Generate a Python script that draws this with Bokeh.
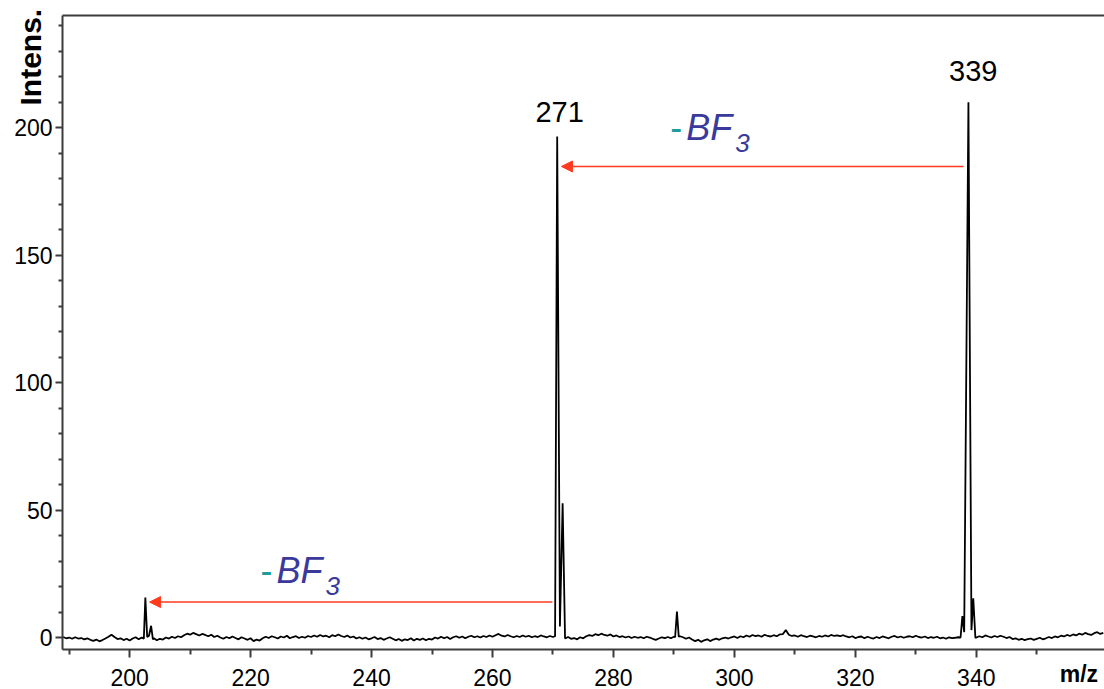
import math
import numpy as np
from bokeh.plotting import figure
from bokeh.models import Label, Arrow, NormalHead, FixedTicker, LinearAxis, Range1d
from bokeh.embed import file_html
from bokeh.resources import INLINE

# ---------------- data ----------------
mz_start, mz_step = 189.0, 0.5
baseline = [
    0.3, -0.2, 0.1, -0.4, 0.2, -0.3, -0.1, -0.6, -0.2, -0.8, -1.2, -0.7, -1.4, -0.9, -0.3, 0.4, 1.2, 0.3, -0.5, -0.2,
    -0.9, -0.4, -1.1, -0.3, 0.2, -0.6, 0.1, -0.4, 0.0, 0.3, -0.2, -1.0, -0.4, -0.7, 0.1, -0.3, 0.4, -0.1, 0.6, 0.2,
    1.0, 1.6, 1.2, 1.9, 1.4, 0.9, 1.5, 1.1, 0.6, 1.2, 0.3, 0.8, 0.1, -0.4, 0.3, -0.2, 0.5, -0.1, -0.6, 0.2,
    -0.3, -0.8, -0.2, -1.3, -0.7, -1.1, -0.2, 0.4, -0.1, 0.6, 0.2, -0.3, 0.5, 0.1, 0.8, -0.2, 0.3, 0.6, -0.1, 0.4,
    0.0, 0.7, 0.3, 0.9, 0.4, 1.1, 0.5, 0.8, 0.2, 1.0, 0.6, 1.3, 0.7, 0.3, 0.9, 0.1, 0.5, -0.3, 0.2, -0.4,
    0.1, -0.6, -0.2, 0.3, -0.5, -0.1, -0.8, -0.3, 0.2, -0.4, -1.0, -0.5, -1.2, -0.6, -0.9, -0.2, -1.1, -0.4, -0.8, -0.3,
    -1.0, -0.4, -0.7, 0.1, -0.3, 0.4, -0.2, 0.3, -0.5, 0.2, 0.6, 0.0, 0.5, -0.2, 0.4, 0.8, 0.2, 0.6, 0.1, 0.7,
    0.3, 0.9, 0.4, 1.0, 1.5, 0.8, 0.5, 1.1, 0.6, 0.2, 0.7, 0.3, 0.9, 0.4, 0.8, 0.2, 0.6, 0.3, 0.9, 0.5,
    0.2, 0.7, 0.3, 0.5, 0.4, 0.6, 0.2, 0.3, -0.4, -0.1, -0.6, 0.2, -0.2, 0.6, 1.0, 0.7, 1.4, 1.0, 1.6, 1.1,
    0.8, 1.3, 0.5, 0.9, 0.3, 0.6, 0.1, 0.5, -0.1, 0.4, 0.0, 0.3, -0.2, 0.4, 0.1, -0.4, -0.8, -0.3, 0.2, -0.1,
    0.3, -0.2, 0.4, 0.0, 0.6, 0.2, -0.4, 0.1, -0.7, -1.3, -0.8, -1.6, -1.0, -0.6, -1.3, -0.7, -0.3, -0.8, -0.2, 0.1,
    -0.3, 0.2, 0.5, -0.1, 0.6, 0.2, 0.9, 0.4, 1.1, 0.6, 0.9, 0.4, 1.2, 0.7, 0.5, 1.0, 0.6, 1.3, 1.4, 3.0,
    1.2, 0.7, 0.9, 0.4, 1.0, 0.6, 0.3, 0.8, 0.5, 0.2, 0.7, 0.4, 0.9, 0.5, 1.1, 0.7, 0.9, 0.6, 1.0, 0.5,
    0.2, 0.6, -0.1, 0.3, 0.5, -0.2, 0.4, 0.0, -0.3, 0.3, -0.1, 0.5, 0.2, -0.2, 0.4, 0.7, 0.1, 0.5, 0.0, 0.4,
    0.6, 0.2, 0.8, 0.3, 0.1, 0.5, -0.1, 0.3, 0.0, 0.4, -0.2, 0.1, -0.4, 0.2, -0.1, 0.0, 0.2, 0.3, 0.1, 0.2,
    0.2, 0.3, 0.1, 0.6, 0.2, 0.9, 0.5, 0.1, 0.7, 0.3, 0.8, 0.4, -0.1, 0.3, -0.5, -0.2, -0.8, -0.4, -0.9, -0.5,
    -0.3, -0.8, -0.4, 0.0, -0.6, -0.2, 0.3, -0.1, 0.5, 0.2, 0.8, 0.5, 1.1, 0.7, 1.3, 0.9, 1.6, 1.2, 1.9, 1.4,
    1.1, 1.8, 2.2, 1.5, 1.9,
]

# peak clusters: m/z and intensity of the points that form each peak
peak_203_mz = [202.35, 202.6, 202.9, 203.2, 203.55, 203.85]
peak_203_int = [-0.4, 15.8, 0.3, 0.8, 4.7, -0.6]
peak_271_mz = [270.35, 270.7, 271.15, 271.6, 272.0]
peak_271_int = [0.6, 196.6, 4.4, 52.7, -0.3]
peak_290_mz = [290.2, 290.5, 290.8]
peak_290_int = [0.2, 10.3, 0.4]
peak_339_mz = [337.4, 337.7, 338.0, 338.7, 339.2, 339.5, 339.85]
peak_339_int = [0.1, 8.5, 2.2, 210.0, 3.0, 15.5, 0.0]

peak_labels = ["271", "339"]
peak_label_mz = [271.1, 339.5]
peak_label_y = [202.2, 218.5]

# neutral-loss arrows (-BF3): from parent m/z to fragment m/z, drawn at a given intensity
arrow_from = [337.9, 269.9]
arrow_to = [271.4, 203.3]
arrow_y = [184.8, 14.0]
loss_label_mz = [289.4, 221.65]
loss_label_y = [195.0, 21.3]

x_ticks = [200, 220, 240, 260, 280, 300, 320, 340]
x_minor = [190, 210, 230, 250, 270, 290, 310, 330, 350]
y_ticks = [0, 50, 100, 150, 200]
y_minor = [10, 20, 30, 40, 60, 70, 80, 90, 110, 120, 130, 140, 160, 170, 180, 190, 210, 220, 230, 240]

x_title = "m/z"
y_title = "Intens."

x_min, x_max = 188.9, 361.2
y_min, y_max = -4.6, 244.0

# ---------------- assemble spectrum ----------------
base_mz = mz_start + mz_step * np.arange(len(baseline))
base_int = np.array(baseline)
clusters = [(peak_203_mz, peak_203_int), (peak_271_mz, peak_271_int),
            (peak_290_mz, peak_290_int), (peak_339_mz, peak_339_int)]
keep = np.ones(len(base_mz), dtype=bool)
for cm, ci in clusters:
    keep &= ~((base_mz >= min(cm)) & (base_mz <= max(cm)))
all_mz = list(base_mz[keep])
all_int = list(base_int[keep])
for cm, ci in clusters:
    all_mz += cm
    all_int += ci
order = np.argsort(all_mz)
spec_mz = np.array(all_mz)[order]
spec_int = np.array(all_int)[order]

# ---------------- figure ----------------
FONT = "Liberation Sans"
AXIS_COLOR = "#3c3c3c"
NBSP = "\u00a0"

p = figure(width=1104, height=689, output_backend="svg", toolbar_location=None,
           x_range=Range1d(x_min, x_max), y_range=Range1d(y_min, y_max),
           min_border_left=62, min_border_right=0, min_border_top=15, min_border_bottom=40,
           x_axis_type=None, y_axis_type=None)
p.outline_line_color = None
p.background_fill_color = "white"
p.border_fill_color = "white"

xaxis = LinearAxis(ticker=FixedTicker(ticks=x_ticks, minor_ticks=x_minor))
xaxis.axis_line_color = AXIS_COLOR
xaxis.axis_line_width = 2
xaxis.major_tick_line_color = AXIS_COLOR
xaxis.minor_tick_line_color = AXIS_COLOR
xaxis.major_tick_line_width = 2
xaxis.minor_tick_line_width = 2
xaxis.major_tick_in = 0
xaxis.major_tick_out = 8
xaxis.minor_tick_in = 0
xaxis.minor_tick_out = 5
xaxis.major_label_standoff = 11
xaxis.major_label_text_font = FONT
xaxis.major_label_text_font_size = "23px"
xaxis.major_label_text_color = "black"
# the axis title sits at the right end, on the tick-label row (label is centred on the frame end,
# so it is padded with non-breaking spaces to pull the visible text inside the canvas)
xaxis.axis_label = x_title + NBSP * 8
xaxis.axis_label_text_font = FONT
xaxis.axis_label_text_font_style = "bold"
xaxis.axis_label_text_font_size = "23px"
xaxis.axis_label_text_color = "black"
xaxis.axis_label_standoff = -28
xaxis.axis_label_align = "end"
p.add_layout(xaxis, "below")

yaxis = LinearAxis(ticker=FixedTicker(ticks=y_ticks, minor_ticks=y_minor))
yaxis.axis_line_color = AXIS_COLOR
yaxis.axis_line_width = 2
yaxis.major_tick_line_color = AXIS_COLOR
yaxis.minor_tick_line_color = AXIS_COLOR
yaxis.major_tick_line_width = 2
yaxis.minor_tick_line_width = 2
yaxis.major_tick_in = 0
yaxis.major_tick_out = 7
yaxis.minor_tick_in = 0
yaxis.minor_tick_out = 4
yaxis.major_label_standoff = 3
yaxis.major_label_text_font = FONT
yaxis.major_label_text_font_size = "23px"
yaxis.major_label_text_color = "black"
yaxis.axis_label = y_title + NBSP * 10
yaxis.axis_label_text_font = FONT
yaxis.axis_label_text_font_style = "bold"
yaxis.axis_label_text_font_size = "30px"
yaxis.axis_label_text_color = "black"
yaxis.axis_label_standoff = -36
yaxis.axis_label_align = "end"
p.add_layout(yaxis, "left")

top = LinearAxis(ticker=FixedTicker(ticks=[]))
top.axis_line_color = AXIS_COLOR
top.axis_line_width = 2
top.major_tick_out = 0
top.major_tick_in = 0
top.minor_tick_out = 0
top.minor_tick_in = 0
top.major_label_standoff = 0
top.major_label_text_font_size = "0px"
p.add_layout(top, "above")

p.xgrid.visible = False
p.ygrid.visible = False

# spectrum
p.line(spec_mz, spec_int, line_color="black", line_width=1.8)

# arrows
RED = "#ff3b1f"
for xs, xe, ya in zip(arrow_from, arrow_to, arrow_y):
    p.add_layout(Arrow(end=NormalHead(size=11, fill_color=RED, line_color=RED, line_width=1),
                       x_start=xs, y_start=ya, x_end=xe, y_end=ya,
                       line_color=RED, line_width=1.6))

# peak labels
for t, xm, yv in zip(peak_labels, peak_label_mz, peak_label_y):
    p.add_layout(Label(x=xm, y=yv, y_offset=10, text=t, text_align="center", text_baseline="alphabetic",
                       text_font=FONT, text_font_size="29px", text_color="black"))

# -BF3 labels
for xm, yv in zip(loss_label_mz, loss_label_y):
    p.add_layout(Label(x=xm, y=yv, y_offset=13, text="-", text_align="left", text_baseline="alphabetic",
                       text_font=FONT, text_font_size="36px", text_color="#1f9c9c"))
    p.add_layout(Label(x=xm, y=yv, x_offset=16, y_offset=13, text="BF", text_align="left",
                       text_baseline="alphabetic", text_font=FONT, text_font_style="italic",
                       text_font_size="36px", text_color="#3a3a9c"))
    p.add_layout(Label(x=xm, y=yv, x_offset=65, y_offset=-3, text="3", text_align="left",
                       text_baseline="alphabetic", text_font=FONT, text_font_style="italic",
                       text_font_size="26px", text_color="#3a3a9c"))

open("out.html", "w").write(file_html(p, INLINE))
